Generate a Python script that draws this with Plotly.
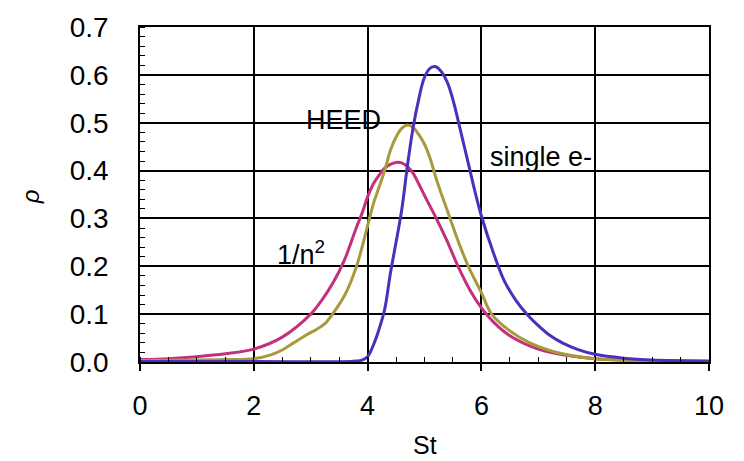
import plotly.graph_objects as go

# 1/n^2 curve
st_n2 = [0, 0.5, 1, 1.5, 2, 2.5, 3.0, 3.2, 3.4, 3.6, 3.8, 3.9, 4.0, 4.1, 4.2, 4.3, 4.4, 4.5, 4.6, 4.7,
         4.8, 4.9, 5.0, 5.1, 5.2, 5.4, 5.6, 5.8, 6.0, 6.2, 6.5, 7.0, 7.5, 8.0, 9.0, 10]
rho_n2 = [0.005, 0.007, 0.011, 0.017, 0.027, 0.052, 0.1, 0.13, 0.167, 0.215, 0.28, 0.31, 0.345, 0.372, 0.39, 0.405, 0.413, 0.417, 0.416, 0.408,
          0.394, 0.372, 0.348, 0.325, 0.302, 0.252, 0.197, 0.15, 0.113, 0.085, 0.055, 0.027, 0.014, 0.007, 0.003, 0.001]

# HEED curve
st_heed = [0, 1, 1.5, 2, 2.3, 2.5, 2.7, 2.9, 3.1, 3.25, 3.4, 3.6, 3.8, 4.0, 4.1, 4.2, 4.3, 4.4, 4.5, 4.6,
           4.7, 4.8, 4.9, 5.0, 5.1, 5.2, 5.3, 5.45, 5.6, 5.77, 6.0, 6.18, 6.5, 6.85, 7.2, 7.6, 8.0, 9.0, 10]
rho_heed = [0.003, 0.004, 0.005, 0.007, 0.015, 0.025, 0.04, 0.055, 0.068, 0.08, 0.103, 0.14, 0.198, 0.285, 0.33, 0.365, 0.4, 0.442, 0.47, 0.488,
            0.495, 0.49, 0.475, 0.455, 0.425, 0.385, 0.35, 0.3, 0.25, 0.2, 0.145, 0.1, 0.065, 0.04, 0.024, 0.013, 0.007, 0.002, 0.001]

# single e- curve
st_single = [0, 2, 3.7, 3.8, 3.9, 4.0, 4.1, 4.2, 4.3, 4.4, 4.5, 4.6, 4.7, 4.8, 4.9, 5.0, 5.1, 5.2, 5.3, 5.4,
             5.5, 5.6, 5.7, 5.8, 5.9, 6.0, 6.2, 6.4, 6.6, 6.8, 7.0, 7.2, 7.44, 7.7, 8.0, 8.5, 9.0, 10]
rho_single = [0.001, 0.001, 0.001, 0.002, 0.004, 0.011, 0.035, 0.068, 0.11, 0.185, 0.25, 0.318, 0.41, 0.49, 0.55, 0.595, 0.614, 0.617, 0.606, 0.585,
              0.548, 0.5, 0.45, 0.4, 0.35, 0.305, 0.232, 0.17, 0.13, 0.1, 0.076, 0.056, 0.039, 0.026, 0.016, 0.008, 0.004, 0.002]

x_ticks = [0, 2, 4, 6, 8, 10]
y_ticks = [0.0, 0.1, 0.2, 0.3, 0.4, 0.5, 0.6, 0.7]
y_tick_text = ["0.0", "0.1", "0.2", "0.3", "0.4", "0.5", "0.6", "0.7"]

FONT = "Liberation Sans, Arial, sans-serif"

fig = go.Figure()
fig.add_trace(go.Scatter(x=st_n2, y=rho_n2, mode="lines", name="1/n2",
                         line=dict(color="#C4307C", width=3, shape="spline", smoothing=1.0)))
fig.add_trace(go.Scatter(x=st_heed, y=rho_heed, mode="lines", name="HEED",
                         line=dict(color="#A89A3C", width=3, shape="spline", smoothing=1.0)))
fig.add_trace(go.Scatter(x=st_single, y=rho_single, mode="lines", name="single e-",
                         line=dict(color="#4B30BE", width=3, shape="spline", smoothing=1.0)))

L, R, T, B = 140, 35, 20, 98.5
W_plot = 744 - L - R
H_plot = 461 - T - B

fig.update_layout(
    width=744, height=461,
    margin=dict(l=L, r=R, t=T, b=B),
    paper_bgcolor="white", plot_bgcolor="white",
    showlegend=False,
    font=dict(family=FONT, color="black"),
    xaxis=dict(range=[0, 10], tickvals=x_ticks, ticks="outside", ticklen=7, tickwidth=1.5,
               tickcolor="black", showgrid=True, gridcolor="black", gridwidth=1.5,
               showline=True, linecolor="black", linewidth=1.5, mirror=True, zeroline=False,
               tickfont=dict(size=27, family=FONT), ticklabelstandoff=12,
               minor=dict(dtick=0.5, ticks="inside", ticklen=5, tickwidth=1.2, tickcolor="black", showgrid=False)),
    yaxis=dict(range=[0, 0.7], tickvals=y_ticks, ticktext=y_tick_text, ticks="outside", ticklen=0,
               showgrid=True, gridcolor="black", gridwidth=1.5,
               showline=True, linecolor="black", linewidth=1.5, mirror=True, zeroline=False,
               tickfont=dict(size=28, family=FONT), ticklabelstandoff=24,
               minor=dict(dtick=0.02, ticks="inside", ticklen=5, tickwidth=1.2, tickcolor="black", showgrid=False)),
)

fig.add_annotation(x=3.57, y=0.505, xref="x", yref="y", text="HEED", showarrow=False,
                   font=dict(size=27, family=FONT))
fig.add_annotation(x=6.12, y=0.428, xref="x", yref="y", text="single e-", showarrow=False, xanchor="left",
                   font=dict(size=27, family=FONT))
fig.add_annotation(x=2.83, y=0.228, xref="x", yref="y", text="1/n<sup>2</sup>", showarrow=False,
                   font=dict(size=27, family=FONT))
fig.add_annotation(x=(425 - L) / W_plot, y=-(447 - (T + H_plot)) / H_plot, xref="paper", yref="paper",
                   text="St", showarrow=False, xanchor="center", yanchor="middle",
                   font=dict(size=25, family=FONT))
fig.add_annotation(x=(30 - L) / W_plot, y=(T + H_plot - 194) / H_plot, xref="paper", yref="paper",
                   text="<i>ρ</i>", textangle=-90, showarrow=False, xanchor="center", yanchor="middle",
                   font=dict(size=24, family=FONT))

fig.write_html("out.html")
